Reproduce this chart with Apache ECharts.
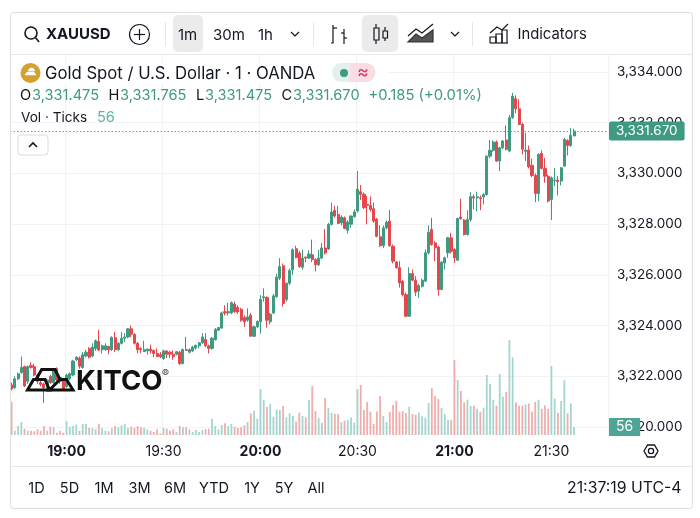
<!DOCTYPE html>
<html><head><meta charset="utf-8">
<style>html,body{margin:0;padding:0;background:#fff}#c{width:700px;height:518px}</style>
<script src="https://cdn.jsdelivr.net/npm/echarts@6/dist/echarts.min.js"></script>
</head><body><div id="c"></div>
<script>
const opens=[3321.66,3321.55,3321.9,3322.15,3322.38,3321.8,3322.42,3322.38,3322.05,3321.75,3321.7,3321.55,3322,3321.75,3322.3,3321.95,3321.8,3321.6,3321.9,3322.05,3322.65,3322.72,3322.35,3322.8,3323.1,3322.8,3323.1,3323.37,3323.05,3323.05,3323.18,3323.05,3323.52,3323.05,3323.3,3323.5,3323.55,3323.87,3323.65,3323.3,3323.1,3322.98,3323,3323.07,3323.02,3322.9,3322.85,3322.7,3323,3322.95,3322.87,3322.87,3322.95,3322.5,3323.05,3322.95,3323,3323.12,3323.2,3323.32,3323.45,3323.2,3323.1,3323.45,3323.82,3323.9,3324.55,3324.5,3324.5,3324.85,
3324.72,3324.64,3324.32,3324.21,3324.41,3323.58,3323.95,3324.15,3325.1,3325.11,3324.15,3324.5,3325.14,3325.87,3326.36,3325.03,3325.67,3326.2,3327.03,3326.86,3326.3,3326.7,3326.66,3326.79,3326.6,3326.4,3326.66,3327.06,3327.02,3327.99,3328.54,3328.38,3328.05,3328.25,3327.76,3328,3328.3,3328.52,3329.28,3329.18,3328.78,3328.74,3328.61,3328.19,3327.5,3327.15,3327.85,3328.12,
3327.13,3326.51,3326.28,3325.75,3325.22,3324.37,3326.05,3325.79,3325.36,3325.55,3325.75,3326.87,3327.79,3327.26,3327.1,3325.42,3326.47,3326.87,3327.46,3327,3326.58,3328.28,3328.16,3327.59,3328.18,3329.08,3329.04,3329.04,3329.07,3329.17,3330.68,3330.91,3331.24,3330.49,3331.01,3331.32,3330.88,3332.2,3332.95,3332.55,3331.93,3330.87,3330.92,3330.32,3329.92,3329.21,3330.79,3330.2,3329.89,3328.97,3329.72,3329.74,3329.7,3330.29,3331.3,3331.1,3331.475];
const closes=[3321.5,3321.9,3322.1,3322.35,3321.62,3322.38,3322.35,3322.05,3321.8,3321.68,3321.55,3321.85,3321.75,3322.25,3321.85,3321.8,3321.5,3322.05,3322.1,3322.6,3322.75,3322.4,3322.85,3322.95,3322.75,3323.15,3323.4,3323.04,3323.2,3323.2,3323.05,3323.53,3323.05,3323.3,3323.5,3323.55,3323.87,3323.66,3323.3,3323.05,3323.05,3323.05,3323.07,3323,3322.9,3322.78,3322.77,3323,3322.87,3322.87,3322.77,3322.97,3322.5,3323.05,3323.02,3323.05,3323.15,3323.22,3323.32,3323.55,3323.2,3323.1,3323.5,3323.85,3323.92,3324.5,3324.5,3324.55,3324.9,3324.55,
3324.54,3324.21,3324.15,3324.34,3323.58,3323.95,3324.16,3325.03,3325.14,3324.21,3324.45,3325.17,3325.91,3326.33,3324.87,3325.67,3326.17,3326.99,3326.68,3326.33,3326.66,3326.66,3326.82,3326.6,3326.4,3326.66,3327.06,3326.86,3327.99,3328.48,3328.32,3328.03,3328.28,3327.83,3328.08,3328.32,3328.48,3329.38,3329.18,3328.65,3328.74,3328.58,3328.12,3327.52,3327.15,3327.85,3328.08,3327.15,
3326.54,3326.28,3325.68,3325.22,3324.37,3326.05,3325.79,3325.32,3325.58,3325.79,3326.87,3327.68,3327.2,3327.07,3325.42,3326.5,3326.67,3327.46,3326.93,3326.67,3328.22,3328.21,3327.59,3328.18,3329.08,3329.03,3329.08,3329,3329.17,3330.68,3330.91,3331.24,3330.49,3331.01,3331.28,3330.95,3332.2,3333.05,3332.55,3331.93,3330.95,3330.92,3330.26,3329.92,3329.21,3330.75,3330.2,3329.89,3328.91,3329.83,3329.74,3329.68,3330.22,3331.34,3331.1,3331.5,3331.67];
const highs=[3321.75,3322,3322.15,3322.78,3322.42,3322.42,3322.55,3322.5,3322.1,3321.9,3321.75,3321.9,3322.05,3322.3,3322.35,3322,3321.9,3322.1,3322.15,3322.65,3322.8,3322.78,3322.95,3323.05,3323.15,3323.3,3323.45,3323.83,3323.25,3323.3,3323.2,3323.58,3323.75,3323.35,3323.75,3323.7,3323.9,3324,3323.7,3323.35,3323.15,3323.4,3323.1,3323.25,3323.05,3323.1,3322.95,3323.05,3323.03,3323,3323.02,3323,3323,3323.1,3323.55,3323.1,3323.2,3323.25,3323.35,3323.7,3323.7,3323.25,3323.55,3323.9,3323.95,3324.55,3324.8,3324.9,3324.95,3324.95,
3324.8,3324.7,3324.4,3324.68,3324.5,3324,3324.2,3325.2,3325.47,3325.15,3324.5,3325.25,3326.04,3326.66,3326.45,3325.7,3326.25,3327.05,3327.15,3326.95,3326.99,3326.72,3326.97,3327.39,3326.65,3326.99,3327.26,3327.81,3328.05,3328.85,3328.72,3328.72,3328.35,3328.3,3328.15,3328.35,3328.58,3330.1,3329.54,3329.25,3329.11,3329.09,3328.85,3328.25,3327.95,3327.95,3328.15,3328.56,
3327.2,3326.55,3326.55,3325.8,3325.3,3326.3,3326.21,3325.95,3325.65,3325.85,3327,3327.95,3328.25,3327.33,3327.15,3326.55,3326.72,3327.5,3327.66,3327.05,3328.25,3329,3328.2,3328.55,3329.26,3329.17,3329.28,3329.13,3329.22,3330.72,3331.32,3331.3,3331.3,3331.05,3331.32,3331.89,3332.3,3333.18,3333.08,3332.92,3332,3331.6,3331.1,3330.58,3330,3330.8,3330.91,3330.62,3329.95,3329.88,3330.22,3329.9,3330.25,3331.4,3331.35,3331.8,3331.765];
const lows=[3321.45,3321.5,3321.85,3322.1,3321.58,3321.7,3322.3,3322,3321.7,3321.6,3320.95,3321.5,3321.7,3321.7,3321.8,3321.7,3321.45,3321.55,3321.85,3322,3322.6,3322.3,3322.3,3322.75,3322.7,3322.75,3323,3323,3322.9,3323,3322.87,3323,3322.95,3323,3323.25,3323.35,3323.5,3323.55,3323.25,3322.9,3322.9,3322.97,3322.85,3322.9,3322.75,3322.75,3322.72,3322.65,3322.72,3322.72,3322.65,3322.82,3322.45,3322.47,3323,3322.9,3322.95,3323.05,3323.1,3323.28,3323.15,3322.9,3323.05,3323.4,3323.78,3323.88,3324.4,3324.4,3324.45,3324.5,
3324.45,3324.15,3323.95,3324.15,3323.58,3323.55,3323.9,3323.68,3324.94,3323.92,3324.05,3324.45,3325.1,3325.8,3324.75,3324.94,3325.6,3326,3326.65,3326.28,3326.2,3326.5,3326.62,3326.5,3326.13,3326.35,3326.62,3326.8,3326.98,3327.95,3328.25,3328,3327.95,3327.8,3327.63,3327.85,3328.25,3328.45,3328.95,3328.6,3327.99,3328.5,3328.05,3327.48,3327.1,3327.06,3327.8,3327.1,
3326.45,3326.25,3325.5,3325.15,3324.33,3324.35,3325.75,3325.16,3325.09,3325.5,3325.72,3326.8,3327.15,3326.54,3325.18,3325.4,3326.21,3326.67,3326.85,3326.47,3326.55,3328.18,3327.55,3327.55,3328.1,3328.58,3328.51,3328.55,3328.78,3329.12,3330.6,3330.85,3330.45,3330.09,3330.95,3330.9,3330.85,3332.15,3332.37,3331.9,3330.75,3330.49,3330.2,3329.85,3328.87,3328.91,3330.15,3329.63,3328.85,3328.16,3329.5,3329.13,3329.53,3330.25,3330.71,3331.05,3331.475];
const volumes=[233,30,63,91,44,30,30,26,40,30,63,30,58,54,16,30,16,96,58,63,72,30,77,77,49,49,40,77,49,30,26,49,63,54,68,77,49,58,49,63,54,49,40,30,21,40,12,49,44,30,40,21,63,54,54,40,21,35,21,35,40,44,114,63,40,70,82,63,77,58,49,54,68,91,151,170,114,322,245,198,217,128,179,175,203,123,151,133,93,156,
133,123,245,342,168,119,86,259,191,156,147,147,91,100,105,123,86,322,350,175,231,163,77,165,273,133,91,161,210,240,163,168,154,198,147,140,156,130,121,224,329,273,252,189,147,105,105,525,385,308,228,247,203,205,184,163,191,420,357,247,205,427,268,301,664,543,228,205,205,214,221,163,231,247,184,207,184,482,256,156,238,384,151,221,56];
const startMinute=18*60+43, slotCount=185;
const categories=Array.from({length:slotCount},(_,i)=>{const m=startMinute+i;return String(Math.floor(m/60)).padStart(2,'0')+':'+String(m%60).padStart(2,'0');});
const rangeButtons=['1D','5D','1M','3M','6M','YTD','1Y','5Y','All'];
const rangeX=[36.5,69.5,104,139.5,175,214,252,284,316];
const GREEN='#3f9a82',RED='#e5474f',VG='#a3d6cf',VR='#f3acac',TXT='#131722';
const isHalf=i=>{const p=categories[i].split(':')[1];return p==='00'||p==='30';};
const T=(text,x,y,o={})=>({type:'text',z:110,style:{text,x,y,fill:o.fill||TXT,font:(o.weight||'400')+' '+(o.size||14)+'px Inter, sans-serif',align:o.align||'left',verticalAlign:'middle'}});
const L=(x1,y1,x2,y2,c='#e6e6e6',w=1)=>({type:'line',z:105,shape:{x1,y1,x2,y2},style:{stroke:c,lineWidth:w}});
const R=(x,y,w,h,r,fill)=>({type:'rect',z:104,shape:{x,y,width:w,height:h,r},style:{fill}});
function P(d,o={}){
 const toks=d.match(/[MLHVZ]|-?[\d.]+/g);let i=0,cur=[],x=0,y=0,cmd='M';const out=[];
 const flush=(closed)=>{if(cur.length>1)out.push({type:closed?'polygon':'polyline',z:o.z||110,shape:{points:cur},style:{fill:closed?(o.fill||'none'):'none',stroke:o.stroke===undefined?TXT:o.stroke,lineWidth:o.w||1.2,lineJoin:'miter'}});};
 while(i<toks.length){const t=toks[i];
  if(/[MLHVZ]/.test(t)){cmd=t;i++;if(t==='Z'){flush(true);cur=[];}continue;}
  if(cmd==='M'){flush(false);x=+toks[i++];y=+toks[i++];cur=[[x,y]];cmd='L';}
  else if(cmd==='L'){x=+toks[i++];y=+toks[i++];cur.push([x,y]);}
  else if(cmd==='H'){x=+toks[i++];cur.push([x,y]);}
  else if(cmd==='V'){y=+toks[i++];cur.push([x,y]);}
 }
 flush(false);return out;
}
const graphics=[
 R(11,63,377,20,0,'#fff'),
 {type:'rect',z:120,shape:{x:10.5,y:12.5,width:682,height:496,r:3},style:{fill:'none',stroke:'#dedede',lineWidth:1}},
 L(11,54.5,692,54.5,'#e8e8e8'),L(11,466.5,692,466.5,'#e8e8e8'),
 L(165.5,22,165.5,46),L(313.5,22,313.5,46),L(472.5,22,472.5,46),
 R(173,15,30,37,5,'#ebebeb'),R(362,15,36,37,5,'#ebebeb'),
 {type:'circle',z:110,shape:{cx:31,cy:33,r:6},style:{fill:'none',stroke:TXT,lineWidth:1.6}},
 L(35.5,37.5,39,42,TXT,1.6),
 T('XAUUSD',46,34.5,{weight:'700',size:15}),
 {type:'circle',z:110,shape:{cx:139.5,cy:34.5,r:10},style:{fill:'none',stroke:TXT,lineWidth:1.2}},
 L(134,34.5,145,34.5,TXT,1.2),L(139.5,29,139.5,40,TXT,1.2),
 T('1m',178,35,{size:15}),T('30m',213,35,{size:15}),T('1h',258,35,{size:15}),
 ...P('M291 32 L295 36 L299 32'),...P('M451 32 L455 36 L459 32'),
 ...P('M333 25 V43 H331 M333 28 H337 M344 29 V44 M344 33 H341 M344 38 H347'),
 ...P('M376 24 V44 M385 27 V41'),
 {type:'rect',z:111,shape:{x:374,y:28,width:5,height:12},style:{fill:'#ebebeb',stroke:TXT,lineWidth:1.2}},
 {type:'rect',z:111,shape:{x:383,y:31,width:4.5,height:7},style:{fill:'#ebebeb',stroke:TXT,lineWidth:1.2}},
 ...P('M408 36 L416 29 L422 33 L433 24'),
 ...P('M408 42 L416 34 L422 38 L433 30 V42 Z',{fill:'#555',stroke:'#333'}),
 ...P('M490 43 H508 M490 43 V37 H496 V43 M496 43 V34 H502 V43 M502 43 V30 H507 V43 M490 33 L497 27 L502 30 L508 24'),
 T('Indicators',517.5,35,{size:14.8}),
 {type:'circle',z:110,shape:{cx:30.5,cy:73,r:10},style:{fill:'#d6a02e'}},
 ...P('M25 75 L27 72 H34 L36 75 Z M28 71 L30 68 H33 L35 71 Z',{fill:'#fff',stroke:'#fff',w:0.5,z:111}),
 T('Gold Spot / U.S. Dollar · 1 · OANDA',45,74,{size:16.7}),
 {type:'rect',z:106,shape:{x:332,y:63,width:30,height:19,r:9.5},style:{fill:'#e3f0ed'}},
 {type:'rect',z:107,shape:{x:350,y:63,width:25.5,height:19,r:[0,9.5,9.5,0]},style:{fill:'#f9dde3'}},
 {type:'circle',z:110,shape:{cx:344,cy:73,r:4},style:{fill:GREEN}},
 T('≈',363,73,{size:18,fill:'#d6336c',align:'center'}),
 T('O',20,96,{size:14.6}),T('3,331.475',32,96,{size:14.6,fill:GREEN}),
 T('H',108.5,96,{size:14.6}),T('3,331.765',120,96,{size:14.6,fill:GREEN}),
 T('L',196,96,{size:14.6}),T('3,331.475',205,96,{size:14.6,fill:GREEN}),
 T('C',281.5,96,{size:14.6}),T('3,331.670',293,96,{size:14.6,fill:GREEN}),
 T('+0.185 (+0.01%)',368.5,96,{size:14.8,fill:GREEN}),
 T('Vol · Ticks',21,118,{size:13.6}),T('56',97,118,{size:14.6,fill:'#5fb3a6'}),
 {type:'rect',z:110,shape:{x:18,y:135,width:30,height:20,r:3},style:{fill:'#fff',stroke:'#dcdcdc'}},
 ...P('M29 147 L33 143 L37 147',{w:1.6,z:111}),
 ...P('M27.5 390 L33.5 379.5 H45 L49.5 390 Z M49.5 390 L60 379.5 H66.5 L73 390 Z M36 379.5 L41.7 369.5 H55 L60 379.5',{w:3,stroke:'#111'}),
 T('KITCO',76,381.5,{size:27.5,weight:'700',fill:'#111'}),
 T('®',165.5,373.5,{size:11,fill:'#444',align:'center'}),
 ...P('M644 451 L647.5 445 H654.5 L658 451 L654.5 457 H647.5 Z',{w:1.3}),
 {type:'circle',z:110,shape:{cx:651,cy:451,r:2.6},style:{fill:'none',stroke:TXT,lineWidth:1.3}},
 ...rangeButtons.map((t,i)=>T(t,rangeX[i],488.5,{size:14.5,align:'center'})),
 T('21:37:19 UTC-4',681.5,488.5,{size:15.8,align:'right'})
];
const candleData=opens.map((o,i)=>[o,closes[i],lows[i],highs[i]]);
const volData=volumes.map((v,i)=>({value:v,itemStyle:{color:closes[i]>=opens[i]?VG:VR}}));
const chart=echarts.init(document.getElementById('c'),null,{renderer:'canvas'});
chart.setOption({
 animation:false,backgroundColor:'#fff',
 grid:[{left:10,right:92,top:72,bottom:91},{left:10,right:92,top:55,bottom:83}],
 xAxis:[
  {type:'category',data:categories,gridIndex:0,axisLine:{show:false},axisTick:{show:false},axisLabel:{show:false},splitLine:{show:false}},
  {type:'category',data:categories,gridIndex:1,axisLine:{show:false},axisTick:{show:false},
   axisLabel:{interval:(i)=>isHalf(i),margin:10,hideOverlap:false,fontFamily:'Inter, sans-serif',fontSize:14,color:TXT,
    formatter:(v)=>v.endsWith(':00')?'{b|'+v+'}':v,rich:{b:{fontWeight:700,fontSize:14,fontFamily:'Inter, sans-serif',color:TXT}}},
   splitLine:{show:true,interval:(i)=>isHalf(i),lineStyle:{color:'#f2f2f4',width:1}}}
 ],
 yAxis:[
  {type:'value',gridIndex:0,position:'right',min:3320,max:3334,interval:2,axisLine:{show:false},axisTick:{show:false},
   axisLabel:{margin:9,fontFamily:'Inter, sans-serif',fontSize:13.5,color:TXT,formatter:(v)=>v.toLocaleString('en-US',{minimumFractionDigits:3,maximumFractionDigits:3})},
   splitLine:{lineStyle:{color:'#f2f2f4',width:1}}},
  {type:'value',gridIndex:1,position:'right',min:0,max:2660,axisLine:{show:false},axisTick:{show:false},axisLabel:{show:false},splitLine:{show:false}}
 ],
 series:[
  {type:'bar',name:'Vol',xAxisIndex:1,yAxisIndex:1,data:volData,barWidth:1.8,z:2,silent:true,
   markLine:{silent:true,symbol:'none',z:50,lineStyle:{color:'rgba(0,0,0,0)'},
    data:[{yAxis:volumes[volumes.length-1]}],
    label:{show:true,position:'end',distance:1,formatter:()=>String(volumes[volumes.length-1]),color:'#fff',backgroundColor:'#4fa595',fontFamily:'Inter, sans-serif',fontSize:14,padding:[2,7,2,7],align:'left',verticalAlign:'middle'}}},
  {type:'candlestick',name:'XAUUSD',xAxisIndex:0,yAxisIndex:0,data:candleData,barWidth:2.6,z:3,silent:true,
   itemStyle:{color:GREEN,color0:RED,borderColor:GREEN,borderColor0:RED,borderWidth:1},
   markLine:{silent:true,symbol:'none',z:50,
    lineStyle:{color:'#5aab96',type:[1.5,2],width:1},
    data:[{yAxis:closes[closes.length-1]}],
    label:{show:true,position:'end',distance:1,formatter:()=>closes[closes.length-1].toLocaleString('en-US',{minimumFractionDigits:3}),color:'#fff',backgroundColor:GREEN,borderRadius:2,fontFamily:'Inter, sans-serif',fontSize:13.5,padding:[3,7,2,7],align:'left',verticalAlign:'middle'}}}
 ],
 graphic:{elements:graphics}
});
</script></body></html>
